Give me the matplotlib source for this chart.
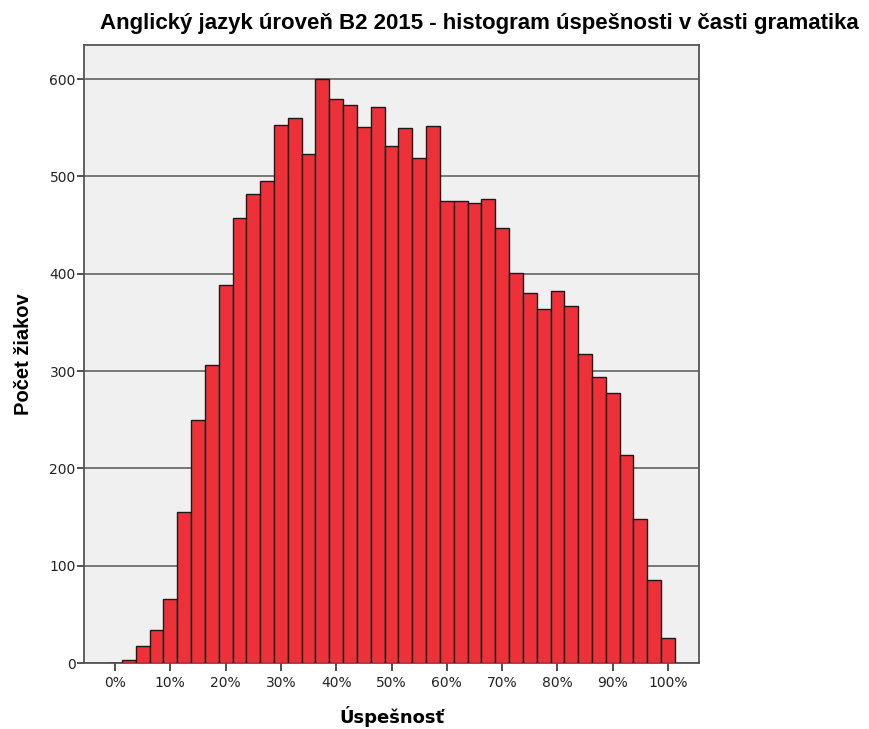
import numpy as np
import matplotlib
matplotlib.use("Agg")
import matplotlib.pyplot as plt

# -------------------------
# Data
# -------------------------
# bin centres in percent, bins of 2.5 %
bin_centres = [i * 2.5 for i in range(41)]
counts = [0, 3, 17, 34, 66, 155, 250, 306, 388, 457,
          482, 495, 553, 560, 523, 600, 580, 573, 551, 571,
          531, 550, 519, 552, 475, 475, 473, 477, 447, 401,
          380, 364, 382, 367, 318, 294, 277, 214, 148, 85, 26]

x_ticks = [0, 10, 20, 30, 40, 50, 60, 70, 80, 90, 100]
x_tick_labels = [f"{t}%" for t in x_ticks]
y_ticks = [0, 100, 200, 300, 400, 500, 600]

title = "Anglický jazyk úroveň B2 2015 - histogram úspešnosti v časti gramatika"
x_label = "Úspešnosť"
y_label = "Počet žiakov"

# -------------------------
# Plot
# -------------------------
plt.rcParams["font.family"] = ["Liberation Sans", "DejaVu Sans"]

fig = plt.figure(figsize=(8.69, 7.29), dpi=100)
ax = fig.add_axes([0.0967, 0.0905, 0.7077, 0.8478])
ax.set_facecolor("#f0f0f0")

ax.bar(bin_centres, counts, width=2.5, color="#ee3038",
       edgecolor="#1a1a1a", linewidth=1.0, zorder=3)

ax.set_xlim(-5.6, 105.6)
ax.set_ylim(0, 635)

tick_font = dict(family="DejaVu Sans", size=10, color="#222222")
ax.set_xticks(x_ticks)
ax.set_xticklabels(x_tick_labels, **tick_font)
ax.set_yticks(y_ticks)
ax.set_yticklabels([str(t) for t in y_ticks], **tick_font)
ax.tick_params(axis="x", length=6, width=1.2, color="#333333", pad=3)
ax.tick_params(axis="y", length=5, width=1.2, color="#333333", pad=1)

ax.yaxis.grid(True, color="#555555", linewidth=1.1, zorder=1)
ax.set_axisbelow(True)

for side in ["left", "right", "top", "bottom"]:
    ax.spines[side].set_color("#555555")
    ax.spines[side].set_linewidth(1.3)

ax.set_xlabel(x_label, family="DejaVu Sans", fontsize=13,
              fontweight="bold", labelpad=12)
ax.set_ylabel(y_label, fontsize=14.5, fontweight="bold", labelpad=12)

fig.text(0.552, 0.968, title, ha="center", va="center",
         fontsize=16, fontweight="bold")

fig.savefig("out.png", dpi=100, facecolor="white")
